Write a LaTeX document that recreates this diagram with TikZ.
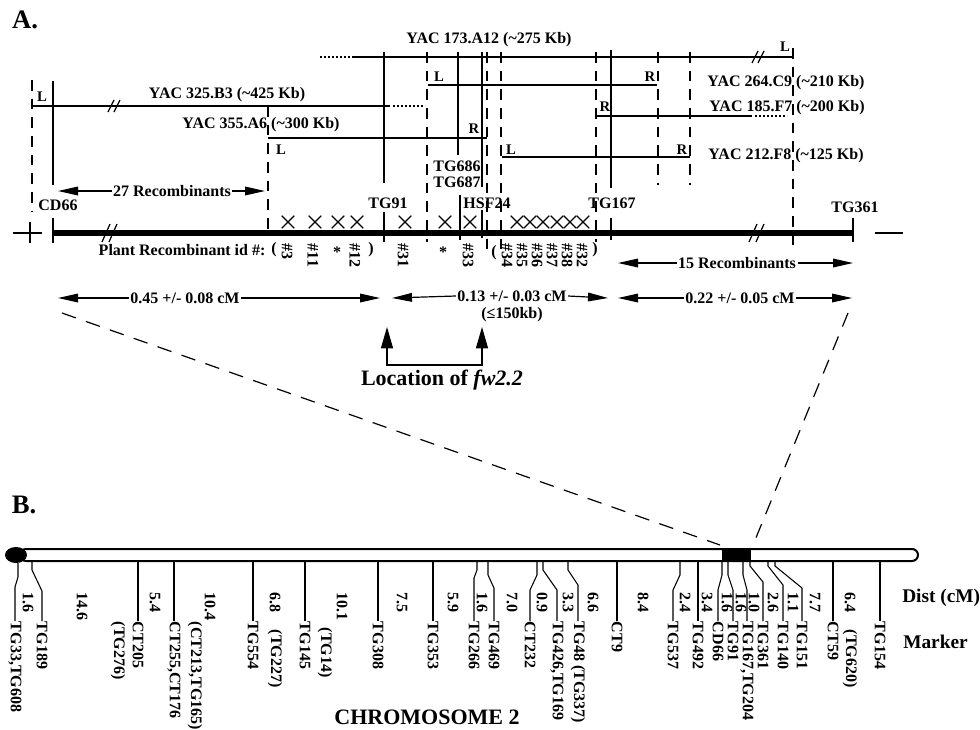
\documentclass[tikz,border=0pt]{standalone}
\usepackage{fontspec}
\setmainfont{Liberation Serif}
\usetikzlibrary{positioning, shapes.misc, arrows.meta}

\begin{document}
\begin{tikzpicture}[
	x=0.75pt, y=-0.75pt,
	lbl/.style={
		font=\bfseries\fontsize{12}{13}\selectfont,
		inner sep=1pt
	},
	endlbl/.style={
		font=\bfseries\fontsize{11}{12}\selectfont,
		inner sep=0pt
	},
	vlbl/.style={
		font=\bfseries\fontsize{12}{13}\selectfont,
		rotate=-90,
		anchor=west,
		inner sep=0.5pt
	},
	panel/.style={
		font=\bfseries\fontsize{20}{22}\selectfont
	},
	biglbl/.style={
		font=\bfseries\fontsize{16.5}{18}\selectfont
	},
	sidelbl/.style={
		font=\bfseries\fontsize{14.5}{16}\selectfont,
		anchor=west,
		inner sep=0pt
	},
	yacline/.style={
		line width=0.9pt
	},
	dotline/.style={
		line width=0.9pt,
		dash pattern=on 1.2pt off 1.8pt
	},
	guide/.style={
		line width=0.9pt,
		dash pattern=on 8pt off 6pt
	},
	brk/.style={
		line width=0.9pt
	},
	mainline/.style={
		line width=3.8pt
	},
	xmark/.style={
		cross out,
		draw,
		line width=0.9pt,
		minimum size=8.5pt,
		inner sep=0pt
	},
	dim/.style={
		line width=0.9pt,
		-{Triangle[length=15pt,width=6.5pt]}
	},
	locarrow/.style={
		line width=0.9pt,
		{Triangle[length=16pt,width=9pt]}-{Triangle[length=16pt,width=9pt]}
	},
	zoomline/.style={
		line width=0.9pt,
		dash pattern=on 11pt off 8pt
	},
	chrom/.style={
		line width=1.5pt,
		fill=white,
		rounded corners=4.5pt
	},
	marker/.style={
		line width=0.8pt
	}
	]
	\useasboundingbox (0,0) rectangle (980,729);
	
	% Panel letters
	\node[panel] (panelA) at (25,20) {A.};
	\node[panel] (panelB) at (24,505) {B.};
	
	% YAC clones
	\draw[dotline] (320,57) -- (353,57);
	\draw[yacline] (353,57) -- (793,57);
	\node[lbl] (yacOne) at (489,40) {YAC 173.A12 (\textasciitilde275 Kb)};
	\node[endlbl] (yacOneL) at (785,47) {L};
	
	\draw[yacline] (428,85) -- (657,85);
	\node[endlbl] (yacTwoL) at (439,77) {L};
	\node[endlbl] (yacTwoR) at (650,77) {R};
	\node[lbl] (yacTwo) at (786,83) {YAC 264.C9 (\textasciitilde210 Kb)};
	
	\draw[yacline] (32,106) -- (390,106);
	\draw[dotline] (393,106) -- (425,106);
	\node[endlbl] (yacThreeL) at (42,97) {L};
	\node[lbl] (yacThree) at (227,95) {YAC 325.B3 (\textasciitilde425 Kb)};
	
	\draw[yacline] (595,116) -- (752,116);
	\draw[dotline] (755,116) -- (787,116);
	\node[endlbl] (yacFourR) at (605,107) {R};
	\node[lbl] (yacFour) at (787,108) {YAC 185.F7 (\textasciitilde200 Kb)};
	
	\draw[yacline] (268,138) -- (487,138);
	\node[endlbl] (yacFiveR) at (474,129) {R};
	\node[endlbl] (yacFiveL) at (281,150) {L};
	\node[lbl] (yacFive) at (261,125) {YAC 355.A6 (\textasciitilde300 Kb)};
	
	\draw[yacline] (502,157) -- (690,157);
	\node[endlbl] (yacSixL) at (511,150) {L};
	\node[endlbl] (yacSixR) at (682,150) {R};
	\node[lbl] (yacSix) at (786,156) {YAC 212.F8 (\textasciitilde125 Kb)};
	
	% Break marks
	\draw[brk] (108,112) -- (114,100) (114,112) -- (120,100);
	\draw[brk] (752,63) -- (758,51) (758,63) -- (764,51);
	
	% Marker lines
	\draw[yacline] (53,81) -- (53,185);
	\draw[yacline] (384,52) -- (384,183);
	\draw[yacline] (458,52) -- (458,155);
	\draw[yacline] (482,52) -- (482,187);
	\draw[yacline] (611,50) -- (611,188);
	
	% End point guides
	\draw[guide] (32,80) -- (32,212);
	\draw[guide] (268,106) -- (268,233);
	\draw[guide] (427,52) -- (427,242);
	\draw[guide] (487,52) -- (487,253);
	\draw[guide] (501,52) -- (501,257);
	\draw[guide] (596,52) -- (596,242);
	\draw[guide] (658,52) -- (658,185);
	\draw[guide] (690,52) -- (690,185);
	\draw[guide] (793,48) -- (793,248);
	
	% Marker names
	\node[lbl] (cdSixSix) at (58,205) {CD66};
	\node[lbl] (tgNineOne) at (388,203) {TG91};
	\node[lbl] (tgSixEightSix) at (457,166) {TG686};
	\node[lbl, below=1.5pt of tgSixEightSix] (tgSixEightSeven) {TG687};
	\node[lbl] (hsfTwoFour) at (487,203) {HSF24};
	\node[lbl] (tgOneSixSeven) at (612,203) {TG167};
	\node[lbl] (tgThreeSixOne) at (855,207) {TG361};
	
	% Fine map
	\draw[mainline] (53,233) -- (853,233);
	\draw[yacline] (13,233) -- (42,233) (30,222) -- (30,243);
	\draw[yacline] (875,233) -- (903,233);
	\draw[yacline] (53,218) -- (53,243);
	\draw[yacline] (384,212) -- (384,242);
	\draw[yacline] (460,195) -- (460,240);
	\draw[yacline] (482,210) -- (482,238);
	\draw[yacline] (611,218) -- (611,240);
	\draw[yacline] (853,218) -- (853,242);
	\draw[brk] (102,242) -- (110,224) (109,242) -- (117,224);
	\draw[brk] (749,242) -- (757,224) (756,242) -- (764,224);
	
	% Recombination events
	\node[xmark] (xA) at (288,222) {};
	\node[xmark] (xB) at (315,222) {};
	\node[xmark] (xC) at (338,222) {};
	\node[xmark] (xD) at (357,222) {};
	\node[xmark] (xE) at (405,222) {};
	\node[xmark] (xF) at (445,222) {};
	\node[xmark] (xG) at (470,222) {};
	\node[xmark] (xH) at (517,222) {};
	\node[xmark] (xI) at (530,222) {};
	\node[xmark] (xJ) at (543,222) {};
	\node[xmark] (xK) at (557,222) {};
	\node[xmark] (xL) at (570,222) {};
	\node[xmark] (xM) at (583,222) {};
	
	% Plant ids
	\node[lbl, anchor=east] (plantIds) at (267,250) {Plant Recombinant id \#:};
	\node[lbl] (idOpenA) at (274,250) {(};
	\node[vlbl] (idThree) at (287,243) {\#3};
	\node[vlbl] (idEleven) at (313,243) {\#11};
	\node[lbl] (idStarA) at (337,252) {*};
	\node[vlbl] (idTwelve) at (355,243) {\#12};
	\node[lbl] (idCloseA) at (371,250) {)};
	\node[vlbl] (idThirtyOne) at (403,243) {\#31};
	\node[lbl] (idStarB) at (443,252) {*};
	\node[vlbl] (idThirtyThree) at (468,243) {\#33};
	\node[lbl] (idOpenB) at (494,253) {(};
	\node[vlbl] (idThirtyFour) at (507,243) {\#34};
	\node[vlbl] (idThirtyFive) at (522,243) {\#35};
	\node[vlbl] (idThirtySix) at (537,243) {\#36};
	\node[vlbl] (idThirtySeven) at (552,243) {\#37};
	\node[vlbl] (idThirtyEight) at (567,243) {\#38};
	\node[vlbl] (idThirtyTwo) at (582,243) {\#32};
	\node[lbl] (idCloseB) at (595,250) {)};
	
	% Recombinant counts
	\coordinate (recLeftA) at (58,191);
	\coordinate (recLeftB) at (265,191);
	\node[lbl] (recLeft) at (172,191) {27 Recombinants};
	\draw[dim] (recLeft.west) -- (recLeftA);
	\draw[dim] (recLeft.east) -- (recLeftB);
	
	\coordinate (recRightA) at (618,263);
	\coordinate (recRightB) at (853,263);
	\node[lbl] (recRight) at (737,263) {15 Recombinants};
	\draw[dim] (recRight.west) -- (recRightA);
	\draw[dim] (recRight.east) -- (recRightB);
	
	% Genetic distances
	\coordinate (cmOneA) at (58,298);
	\coordinate (cmOneB) at (380,298);
	\node[lbl] (cmOne) at (185,298) {0.45 +/- 0.08 cM};
	\draw[dim] (cmOne.west) -- (cmOneA);
	\draw[dim] (cmOne.east) -- (cmOneB);
	
	\coordinate (cmTwoA) at (392,298);
	\coordinate (cmTwoB) at (608,298);
	\node[lbl] (cmTwo) at (512,296) {0.13 +/- 0.03 cM};
	\node[lbl, below=2pt of cmTwo] (cmTwoKb) {(≤150kb)};
	\draw[dim] (cmTwo.west) -- (cmTwoA);
	\draw[dim] (cmTwo.east) -- (cmTwoB);
	
	\coordinate (cmThreeA) at (618,298);
	\coordinate (cmThreeB) at (852,298);
	\node[lbl] (cmThree) at (740,298) {0.22 +/- 0.05 cM};
	\draw[dim] (cmThree.west) -- (cmThreeA);
	\draw[dim] (cmThree.east) -- (cmThreeB);
	
	% Location of fw2.2
	\coordinate (fwTipA) at (387,327);
	\coordinate (fwBaseA) at (387,365);
	\coordinate (fwBaseB) at (482,365);
	\coordinate (fwTipB) at (482,327);
	\draw[locarrow] (fwTipA) -- (fwBaseA) -- (fwBaseB) -- (fwTipB);
	\node[biglbl] (fwLoc) at (442,380) {Location of \textit{fw2.2}};
	
	% Zoom lines
	\coordinate (zoomTopL) at (62,313);
	\coordinate (zoomTopR) at (848,313);
	\coordinate (zoomBotL) at (720,545);
	\coordinate (zoomBotR) at (753,545);
	\draw[zoomline] (zoomTopL) -- (zoomBotL);
	\draw[zoomline] (zoomTopR) -- (zoomBotR);
	
	% Chromosome 2
	\draw[chrom] (20,549) rectangle (918,561);
	\fill (722,549) rectangle (751,561);
	\fill (16,555) ellipse [x radius=8.25pt, y radius=6pt];
	
	% Markers on chromosome
	\node[vlbl] (mTGthirtyThree) at (15,621) {TG33,TG608};
	\draw[marker] (18,563) -- (18,577) -- (15,587) -- (mTGthirtyThree.west);
	\node[vlbl] (mTGoneEightNine) at (42,621) {TG189};
	\draw[marker] (32,561) -- (32,570) -- (42,591) -- (mTGoneEightNine.west);
	\node[vlbl] (mCTtwoZeroFive) at (138,621) {CT205};
	\draw[marker] (138,561) -- (mCTtwoZeroFive.west);
	\node[vlbl] (mCTtwoFiveFive) at (174,621) {CT255,CT176};
	\draw[marker] (174,561) -- (mCTtwoFiveFive.west);
	\node[vlbl] (mTGfiveFiveFour) at (253,621) {TG554};
	\draw[marker] (253,561) -- (mTGfiveFiveFour.west);
	\node[vlbl] (mTGoneFourFive) at (305,621) {TG145};
	\draw[marker] (305,561) -- (mTGoneFourFive.west);
	\node[vlbl] (mTGthreeZeroEight) at (378,621) {TG308};
	\draw[marker] (378,561) -- (mTGthreeZeroEight.west);
	\node[vlbl] (mTGthreeFiveThree) at (433,621) {TG353};
	\draw[marker] (433,561) -- (mTGthreeFiveThree.west);
	\node[vlbl] (mTGtwoSixSix) at (474,621) {TG266};
	\draw[marker] (477,561) -- (477,570) -- (474,578) -- (mTGtwoSixSix.west);
	\node[vlbl] (mTGfourSixNine) at (494,621) {TG469};
	\draw[marker] (488,561) -- (488,575) -- (494,588) -- (mTGfourSixNine.west);
	\node[vlbl] (mCTtwoThreeTwo) at (530,621) {CT232};
	\draw[marker] (537,561) -- (537,575) -- (530,590) -- (mCTtwoThreeTwo.west);
	\node[vlbl] (mTGfourTwoSix) at (557,621) {TG426,TG169};
	\draw[marker] (543,561) -- (543,570) -- (557,590) -- (mTGfourTwoSix.west);
	\node[vlbl] (mTGfourEight) at (578,621) {TG48 (TG337)};
	\draw[marker] (568,561) -- (568,570) -- (578,585) -- (mTGfourEight.west);
	\node[vlbl] (mCTnine) at (617,621) {CT9};
	\draw[marker] (617,561) -- (mCTnine.west);
	\node[vlbl] (mTGfiveThreeSeven) at (673,621) {TG537};
	\draw[marker] (680,561) -- (680,575) -- (673,590) -- (mTGfiveThreeSeven.west);
	\node[vlbl] (mTGfourNineTwo) at (698,621) {TG492};
	\draw[marker] (698,561) -- (mTGfourNineTwo.west);
	\node[vlbl] (mCDsixSix) at (718,621) {CD66};
	\draw[marker] (722,561) -- (722,575) -- (718,590) -- (mCDsixSix.west);
	\node[vlbl] (mTGnineOne) at (733,621) {TG91};
	\draw[marker] (728,561) -- (728,575) -- (733,590) -- (mTGnineOne.west);
	\node[vlbl] (mTGoneSixSeven) at (747,621) {TG167,TG204};
	\draw[marker] (743,561) -- (743,575) -- (747,590) -- (mTGoneSixSeven.west);
	\node[vlbl] (mTGthreeSixOne) at (763,621) {TG361};
	\draw[marker] (750,561) -- (750,566) -- (763,582) -- (mTGthreeSixOne.west);
	\node[vlbl] (mTGoneFourZero) at (783,621) {TG140};
	\draw[marker] (768,561) -- (768,566) -- (783,585) -- (mTGoneFourZero.west);
	\node[vlbl] (mTGoneFiveOne) at (802,621) {TG151};
	\draw[marker] (775,561) -- (775,566) -- (802,588) -- (mTGoneFiveOne.west);
	\node[vlbl] (mCTfiveNine) at (833,621) {CT59};
	\draw[marker] (833,561) -- (mCTfiveNine.west);
	\node[vlbl] (mTGoneFiveFour) at (880,621) {TG154};
	\draw[marker] (880,561) -- (mTGoneFiveFour.west);
	
	% Unplaced markers
	\node[vlbl] (uTGtwoSevenSix) at (118,621) {(TG276)};
	\node[vlbl] (uCTtwoOneThree) at (195,621) {(CT213,TG165)};
	\node[vlbl] (uTGtwoTwoSeven) at (275,629) {(TG227)};
	\node[vlbl] (uTGfourteen) at (325,627) {(TG14)};
	\node[vlbl] (uTGsixTwenty) at (850,629) {(TG620)};
	
	% Distances in cM
	\node[vlbl] (dOne) at (28,592) {1.6};
	\node[vlbl] (dTwo) at (82,592) {14.6};
	\node[vlbl] (dThree) at (155,592) {5.4};
	\node[vlbl] (dFour) at (210,592) {10.4};
	\node[vlbl] (dFive) at (275,592) {6.8};
	\node[vlbl] (dSix) at (342,592) {10.1};
	\node[vlbl] (dSeven) at (402,592) {7.5};
	\node[vlbl] (dEight) at (453,592) {5.9};
	\node[vlbl] (dNine) at (482,592) {1.6};
	\node[vlbl] (dTen) at (512,592) {7.0};
	\node[vlbl] (dEleven) at (542,592) {0.9};
	\node[vlbl] (dTwelve) at (568,592) {3.3};
	\node[vlbl] (dThirteen) at (593,592) {6.6};
	\node[vlbl] (dFourteen) at (643,592) {8.4};
	\node[vlbl] (dFifteen) at (685,592) {2.4};
	\node[vlbl] (dSixteen) at (707,592) {3.4};
	\node[vlbl] (dSeventeen) at (727,592) {1.6};
	\node[vlbl] (dEighteen) at (741,592) {1.6};
	\node[vlbl] (dNineteen) at (754,592) {1.0};
	\node[vlbl] (dTwenty) at (773,592) {2.6};
	\node[vlbl] (dTwentyOne) at (793,592) {1.1};
	\node[vlbl] (dTwentyTwo) at (815,592) {7.7};
	\node[vlbl] (dTwentyThree) at (850,592) {6.4};
	
	% Row titles
	\node[sidelbl] (distTitle) at (902,598) {Dist (cM)};
	\node[sidelbl] (markerTitle) at (903,642) {Marker};
	\node[biglbl] (chromTitle) at (427,717) {CHROMOSOME 2};
	
\end{tikzpicture}
\end{document}
